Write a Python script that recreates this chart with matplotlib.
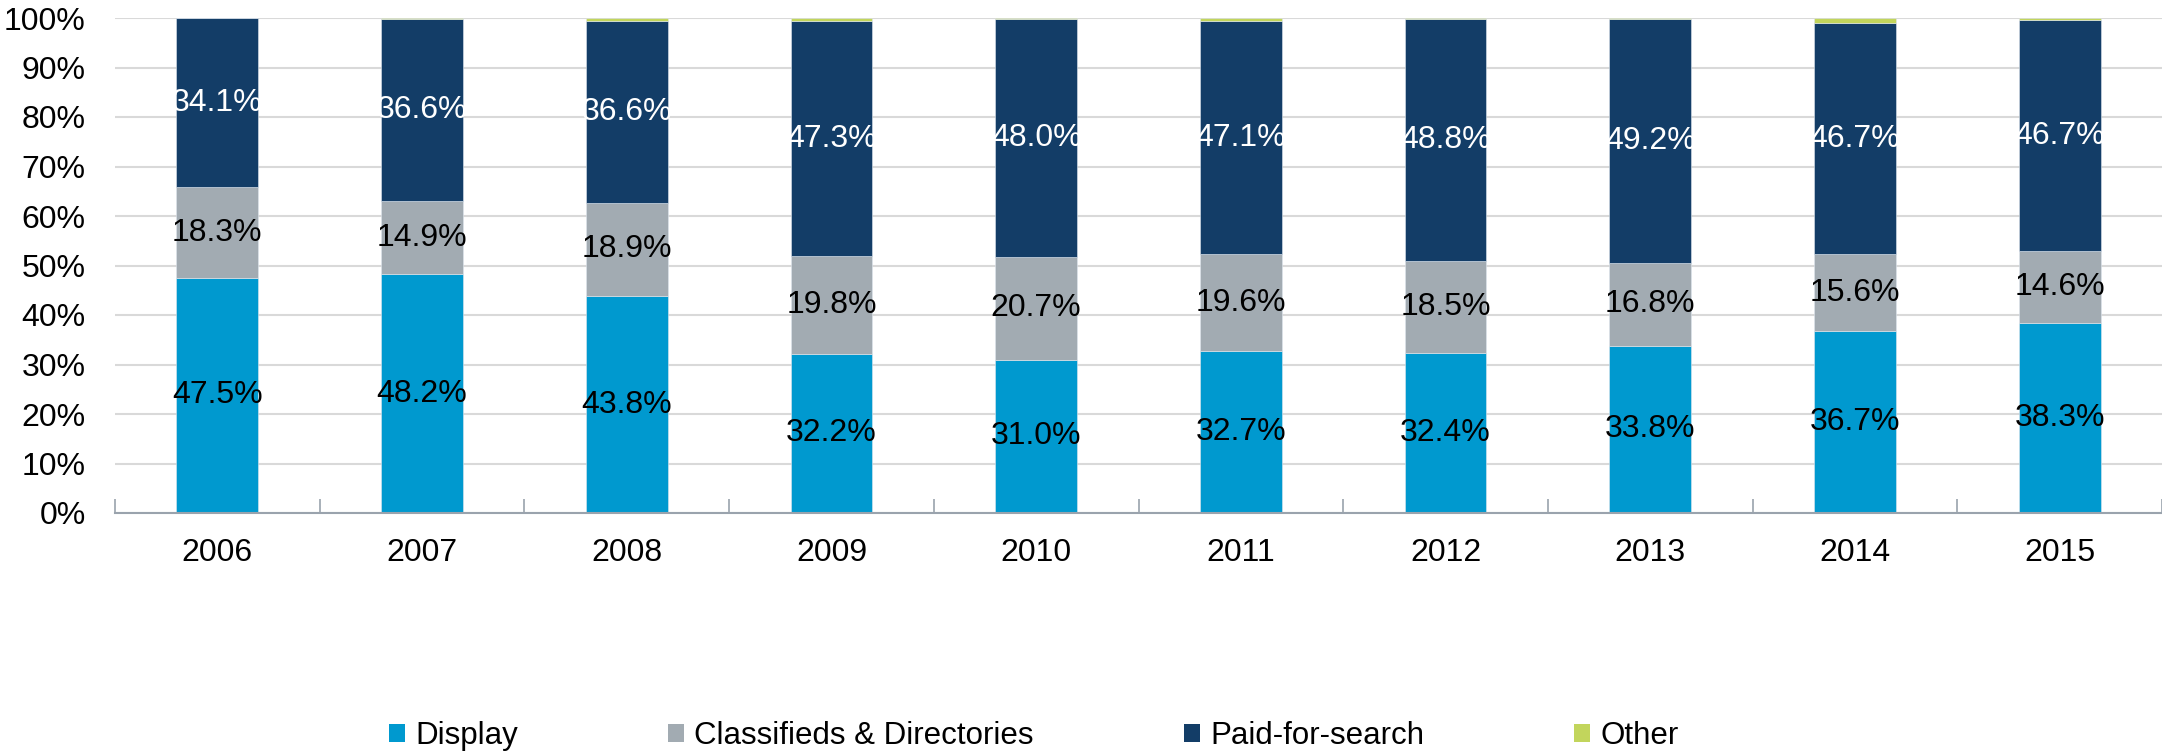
import matplotlib
matplotlib.use("Agg")
import matplotlib.pyplot as plt
import numpy as np
from matplotlib.patches import Patch

plt.rcParams['font.family'] = ['Liberation Sans', 'DejaVu Sans']

years = ['2006', '2007', '2008', '2009', '2010', '2011', '2012', '2013', '2014', '2015']
display = [47.5, 48.2, 43.8, 32.2, 31.0, 32.7, 32.4, 33.8, 36.7, 38.3]
classifieds = [18.3, 14.9, 18.9, 19.8, 20.7, 19.6, 18.5, 16.8, 15.6, 14.6]
paid_search = [34.1, 36.6, 36.6, 47.3, 48.0, 47.1, 48.8, 49.2, 46.7, 46.7]
other = [0.1, 0.3, 0.7, 0.7, 0.3, 0.6, 0.3, 0.2, 1.0, 0.4]

series_names = ['Display', 'Classifieds & Directories', 'Paid-for-search', 'Other']
series_vals = [display, classifieds, paid_search, other]
colors = ['#0099CF', '#A2ABB2', '#133D67', '#C2D55C']
label_colors = ['black', 'black', 'white', None]

W, H = 2162, 755
fig = plt.figure(figsize=(W / 100, H / 100), dpi=100)
ax = fig.add_axes([115 / W, 1 - 513 / H, 1 - 115 / W, (513 - 18) / H])

x = np.arange(len(years))
bottom = np.zeros(len(years))
fs = 23
for name, vals, col, lc in zip(series_names, series_vals, colors, label_colors):
    v = np.array(vals)
    ax.bar(x, v, 0.4, bottom=bottom, color=col, edgecolor='#dfe6ee', linewidth=0.4,
           label=name, zorder=3)
    if lc is not None:
        for xi, b, h in zip(x, bottom, v):
            ax.text(xi, b + h / 2, f'{h:.1f}%', ha='center', va='center',
                    color=lc, fontsize=fs, zorder=4)
    bottom += v

ax.set_xlim(-0.5, len(years) - 0.5)
ax.set_ylim(0, 100)
ax.set_yticks(np.arange(0, 101, 10))
ax.set_yticklabels([f'{t}%' for t in range(0, 101, 10)], fontsize=fs)
ax.set_xticks(x)
ax.set_xticklabels(years, fontsize=fs)
ax.set_xticks(np.arange(-0.5, len(years), 1.0), minor=True)

ax.tick_params(axis='y', length=0, pad=21)
ax.tick_params(axis='x', which='major', length=0, pad=18)
ax.tick_params(axis='x', which='minor', direction='in', length=10, width=1.2,
               color='#9aa3ad')

ax.yaxis.grid(True, color='#d9d9d9', linewidth=1.5, zorder=0)
ax.set_axisbelow(True)
for s in ['left', 'right', 'top']:
    ax.spines[s].set_visible(False)
ax.spines['bottom'].set_color('#9aa3ad')
ax.spines['bottom'].set_linewidth(1.5)
ax.spines['bottom'].set_zorder(5)

handles = [Patch(facecolor=c, edgecolor='none') for c in colors]
fig.legend(handles, series_names, loc='center left',
           bbox_to_anchor=(389 / W, 1 - 736 / H), ncol=4, frameon=False,
           fontsize=22.5, handlelength=0.52, handleheight=0.52,
           handletextpad=0.32, columnspacing=4.8, borderpad=0, borderaxespad=0)

fig.savefig('out.png', dpi=100)
